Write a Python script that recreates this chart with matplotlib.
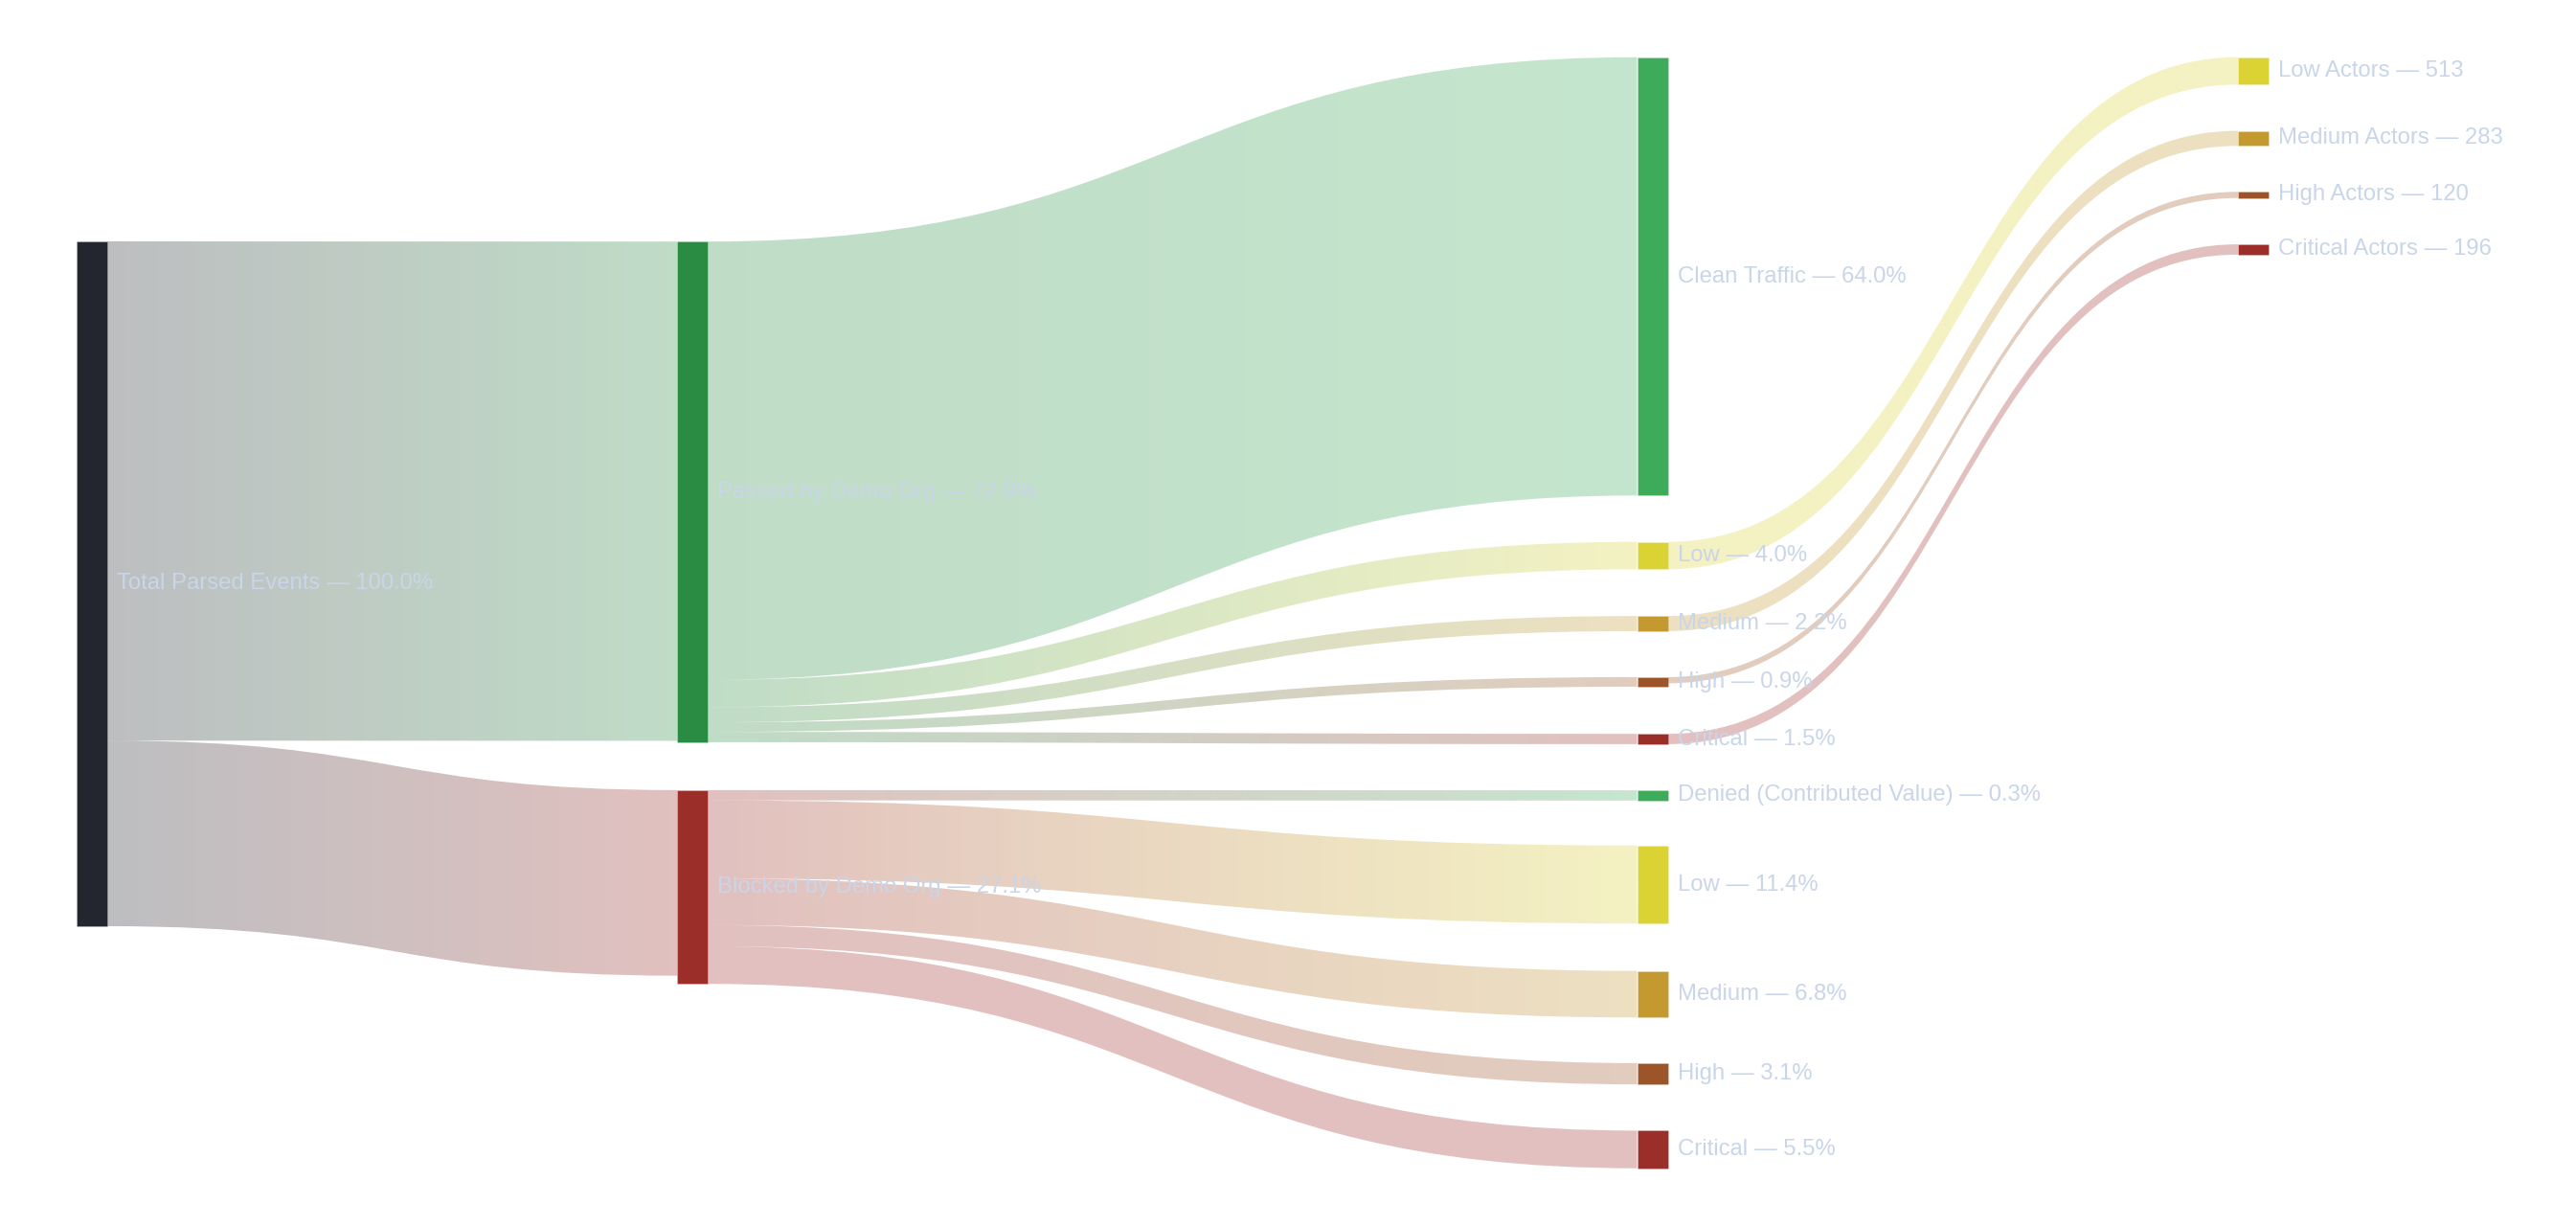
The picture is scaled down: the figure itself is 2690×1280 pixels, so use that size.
import numpy as np
import matplotlib
matplotlib.use("Agg")
import matplotlib.pyplot as plt
from matplotlib.path import Path
from matplotlib.patches import PathPatch
from matplotlib.colors import to_rgba

# ---------------- data ----------------
node_labels = [
    "Total Parsed Events — 100.0%",
    "Passed by Demo Org — 72.9%",
    "Blocked by Demo Org — 27.1%",
    "Clean Traffic — 64.0%",
    "Low — 4.0%",
    "Medium — 2.2%",
    "High — 0.9%",
    "Critical — 1.5%",
    "Denied (Contributed Value) — 0.3%",
    "Low — 11.4%",
    "Medium — 6.8%",
    "High — 3.1%",
    "Critical — 5.5%",
    "Low Actors — 513",
    "Medium Actors — 283",
    "High Actors — 120",
    "Critical Actors — 196",
]
node_colors = [
    "#23262e", "#2a8c42", "#9c2e2a",
    "#3dab5a", "#dbd334", "#c49a30", "#9c5528", "#9c2e2a",
    "#3dab5a", "#dbd334", "#c49a30", "#9c5528", "#9c2e2a",
    "#dbd334", "#c49a30", "#9c5528", "#9c2e2a",
]
link_source = [0, 0, 1, 1, 1, 1, 1, 2, 2, 2, 2, 2, 4, 5, 6, 7]
link_target = [1, 2, 3, 4, 5, 6, 7, 8, 9, 10, 11, 12, 13, 14, 15, 16]
link_value = [72.9, 27.1, 64.0, 4.0, 2.2, 1.4, 1.5, 1.5, 11.4, 6.8, 3.1, 5.5,
              4.0, 2.2, 0.9, 1.5]

# ---------------- layout options (like plotly node.x / node.y) ----------------
node_x = [0.0, 0.278, 0.278,
          0.722, 0.722, 0.722, 0.722, 0.722, 0.722, 0.722, 0.722, 0.722, 0.722,
          1.0, 1.0, 1.0, 1.0]
node_y = [0.4737, 0.391, 0.7466,
          0.197, 0.4483, 0.5095, 0.562, 0.6134, 0.6642,
          0.7444, 0.8431, 0.9147, 0.9828,
          0.0121, 0.0728, 0.1237, 0.1728]

W, H, DPI = 2690, 1280, 100
DOM_X0, DOM_X1 = 80, 2369
DOM_Y0, DOM_Y1 = 60, 1220
NODE_W = 32
SCALE = 7.15          # pixels per value unit
LINK_ALPHA = 0.3
TEXT_COLOR = "#c9d5e8"

plt.rcParams['font.family'] = ['Liberation Sans', 'DejaVu Sans']

fig = plt.figure(figsize=(W / DPI, H / DPI), dpi=DPI)
ax = fig.add_axes([0, 0, 1, 1])
ax.set_axis_off()

n = len(node_labels)
in_sum = np.zeros(n)
out_sum = np.zeros(n)
for s, t, v in zip(link_source, link_target, link_value):
    out_sum[s] += v
    in_sum[t] += v
node_val = np.maximum(in_sum, out_sum)
node_h = node_val * SCALE
node_left = [DOM_X0 + fx * (DOM_X1 - DOM_X0 - NODE_W) for fx in node_x]
node_cy = [DOM_Y0 + fy * (DOM_Y1 - DOM_Y0) for fy in node_y]
node_top = [c - h / 2 for c, h in zip(node_cy, node_h)]

# link stacking offsets
links = list(range(len(link_value)))
src_off = {}
tgt_off = {}
for i in range(n):
    outs = sorted([k for k in links if link_source[k] == i], key=lambda k: node_cy[link_target[k]])
    y = node_top[i]
    for k in outs:
        src_off[k] = y
        y += link_value[k] * SCALE
    ins = sorted([k for k in links if link_target[k] == i], key=lambda k: node_cy[link_source[k]])
    y = node_top[i]
    for k in ins:
        tgt_off[k] = y
        y += link_value[k] * SCALE

# draw links
for k in links:
    s, t, v = link_source[k], link_target[k], link_value[k]
    x0 = node_left[s] + NODE_W
    x1 = node_left[t]
    xm = (x0 + x1) / 2
    w = v * SCALE
    y0, y1 = src_off[k], tgt_off[k]
    verts = [(x0, y0), (xm, y0), (xm, y1), (x1, y1),
             (x1, y1 + w), (xm, y1 + w), (xm, y0 + w), (x0, y0 + w), (x0, y0)]
    codes = [Path.MOVETO, Path.CURVE4, Path.CURVE4, Path.CURVE4,
             Path.LINETO, Path.CURVE4, Path.CURVE4, Path.CURVE4, Path.CLOSEPOLY]
    patch = PathPatch(Path(verts, codes), facecolor="none", edgecolor="none")
    ax.add_patch(patch)
    c0 = np.array(to_rgba(node_colors[s], LINK_ALPHA))
    c1 = np.array(to_rgba(node_colors[t], LINK_ALPHA))
    tt = np.linspace(0, 1, 256)[:, None]
    grad = (c0 * (1 - tt) + c1 * tt)[None, :, :]
    ymin = min(y0, y1) - 1
    ymax = max(y0, y1) + w + 1
    im = ax.imshow(grad, extent=(x0, x1, ymax, ymin), aspect="auto",
                   interpolation="bilinear", zorder=1)
    im.set_clip_path(patch)

# draw nodes
ax.bar(node_left, node_h, width=NODE_W, bottom=node_top, align="edge",
       color=node_colors, edgecolor=(1, 1, 1, 0.25), linewidth=0.5, zorder=2)

# labels
for i in range(n):
    ax.text(node_left[i] + NODE_W + 10, node_cy[i], node_labels[i],
            color=TEXT_COLOR, fontsize=17.2, va="center", ha="left", zorder=3)

ax.set_xlim(0, W)
ax.set_ylim(H, 0)
fig.savefig("out.png", dpi=DPI, facecolor="white")
